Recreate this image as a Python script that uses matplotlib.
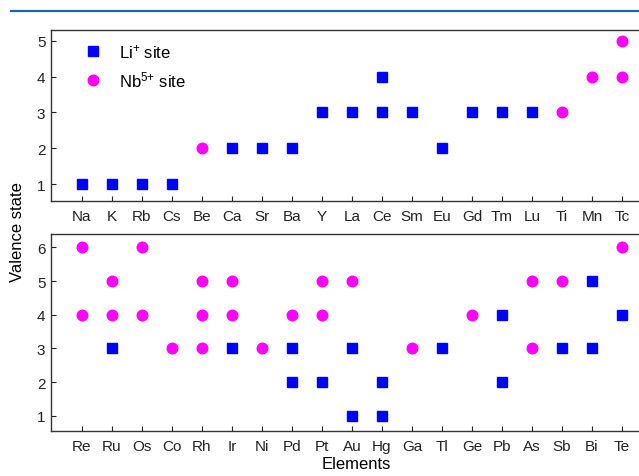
import matplotlib
matplotlib.use("Agg")
import matplotlib.pyplot as plt
from matplotlib.lines import Line2D

plt.rcParams['font.family'] = ['Liberation Sans', 'DejaVu Sans']
plt.rcParams['mathtext.default'] = 'regular'

# top panel
top_elements = ["Na", "K", "Rb", "Cs", "Be", "Ca", "Sr", "Ba", "Y", "La",
                "Ce", "Sm", "Eu", "Gd", "Tm", "Lu", "Ti", "Mn", "Tc"]
top_li_el = ["Na", "K", "Rb", "Cs", "Ca", "Sr", "Ba", "Y", "La", "Ce", "Ce",
             "Sm", "Eu", "Gd", "Tm", "Lu"]
top_li_val = [1, 1, 1, 1, 2, 2, 2, 3, 3, 3, 4, 3, 2, 3, 3, 3]
top_nb_el = ["Be", "Ti", "Mn", "Tc", "Tc"]
top_nb_val = [2, 3, 4, 4, 5]

# bottom panel
bot_elements = ["Re", "Ru", "Os", "Co", "Rh", "Ir", "Ni", "Pd", "Pt", "Au",
                "Hg", "Ga", "Tl", "Ge", "Pb", "As", "Sb", "Bi", "Te"]
bot_li_el = ["Ru", "Ir", "Pd", "Pd", "Pt", "Au", "Au", "Hg", "Hg", "Tl",
             "Pb", "Pb", "Sb", "Bi", "Bi", "Te"]
bot_li_val = [3, 3, 2, 3, 2, 1, 3, 1, 2, 3, 2, 4, 3, 3, 5, 4]
bot_nb_el = ["Re", "Re", "Ru", "Ru", "Os", "Os", "Co", "Rh", "Rh", "Rh",
             "Ir", "Ir", "Ni", "Pd", "Pt", "Pt", "Au", "Ga", "Ge", "As",
             "As", "Sb", "Te"]
bot_nb_val = [4, 6, 4, 5, 4, 6, 3, 3, 4, 5, 4, 5, 3, 4, 4, 5, 5, 3, 4, 3,
              5, 5, 6]

fig = plt.figure(figsize=(6.39, 4.77), dpi=100)

# blue rule at the top of the page
fig.add_artist(Line2D([11 / 639, 1.0], [1 - 12 / 477, 1 - 12 / 477],
                      color='#1f68a8', lw=1.6, transform=fig.transFigure))

ax1 = fig.add_axes([51 / 639, 1 - 202 / 477, 610 / 639, 171 / 477])
ax2 = fig.add_axes([51 / 639, 1 - 432 / 477, 610 / 639, 197 / 477])


def draw(ax, elements, li_el, li_val, nb_el, nb_val):
    pos = {e: i for i, e in enumerate(elements)}
    ax.plot([pos[e] for e in li_el], li_val, ls='none', marker='s',
            ms=7.0, color='#0000ff', label='Li$^{+}$ site')
    ax.plot([pos[e] for e in nb_el], nb_val, ls='none', marker='o',
            ms=7.6, color='#ff00ff', label='Nb$^{5{+}}$ site')
    ax.set_xticks(range(len(elements)))
    ax.set_xticklabels(elements)
    ax.set_xlim(-1.03, len(elements) + 0.3)
    ax.tick_params(direction='in', length=3.5, width=0.8, labelsize=11,
                   colors='#222222')
    ax.tick_params(axis='x', pad=6)
    ax.tick_params(axis='y', pad=4)
    for s in ax.spines.values():
        s.set_color('#333333')
        s.set_linewidth(1.0)


draw(ax1, top_elements, top_li_el, top_li_val, top_nb_el, top_nb_val)
draw(ax2, bot_elements, bot_li_el, bot_li_val, bot_nb_el, bot_nb_val)

ax1.set_ylim(0.53, 5.3)
ax1.set_yticks([1, 2, 3, 4, 5])
ax2.set_ylim(0.55, 6.4)
ax2.set_yticks([1, 2, 3, 4, 5, 6])

ax1.legend(loc='upper left', bbox_to_anchor=(0.041, 0.93), frameon=False,
           fontsize=12, borderaxespad=0, borderpad=0, handletextpad=0.55,
           labelspacing=0.55)

ax2.set_xlabel('Elements', fontsize=12, labelpad=2)
fig.text(0.028, 1 - 232 / 477, 'Valence state', rotation=90, fontsize=12,
         ha='center', va='center')

fig.savefig('out.png', dpi=100)
